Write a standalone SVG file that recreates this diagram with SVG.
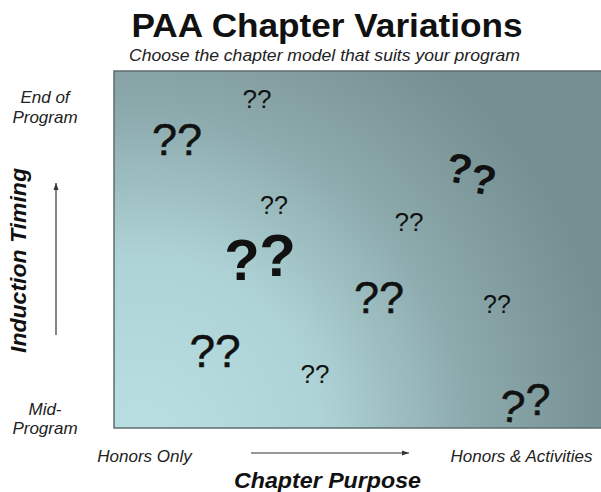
<svg xmlns="http://www.w3.org/2000/svg" width="601" height="492" viewBox="0 0 601 492">
<style>
.t{font-family:"Liberation Sans",Arial,sans-serif;fill:#111}
.it{font-family:"Liberation Sans",Arial,sans-serif;font-style:italic;fill:#222;font-size:17px;text-anchor:middle}
.bi{font-family:"Liberation Sans",Arial,sans-serif;font-style:italic;font-weight:bold;fill:#111}
.q{font-family:"Liberation Sans",Arial,sans-serif;fill:#111;text-anchor:middle}
.qm{font-family:"Liberation Sans",Arial,sans-serif;fill:#111;stroke:#111;stroke-width:0.5;text-anchor:middle}
.qb{font-family:"Liberation Sans",Arial,sans-serif;fill:#111;text-anchor:middle;font-weight:bold}
.ax{stroke:#333;stroke-width:1.2;fill:none}
</style>
<defs>
<radialGradient id="bg" gradientUnits="userSpaceOnUse" cx="140" cy="440" r="480">
<stop offset="0" stop-color="#b8e0e3"/>
<stop offset="0.38" stop-color="#aed3d6"/>
<stop offset="0.7" stop-color="#8ba8ab"/>
<stop offset="1" stop-color="#758f92"/>
</radialGradient>
<marker id="ah" markerWidth="8" markerHeight="8" refX="7" refY="4" orient="auto" markerUnits="userSpaceOnUse">
<path d="M0,1.5 L7,4 L0,6.5 Z" fill="#333"/>
</marker>
</defs>
<rect width="601" height="492" fill="#fff"/>
<g id="title">
<text class="t" x="327" y="37" font-size="34" font-weight="bold" text-anchor="middle" textLength="391" lengthAdjust="spacingAndGlyphs">PAA Chapter Variations</text>
<text class="it" x="324.5" y="61" font-size="16" textLength="391" lengthAdjust="spacingAndGlyphs">Choose the chapter model that suits your program</text>
</g>
<g id="chart">
<rect x="114" y="71" width="490" height="357" fill="url(#bg)" stroke="#5f6c6e" stroke-width="1.5"/>
</g>
<g id="marks">
<text class="q" x="257" y="108" font-size="26">??</text>
<text class="qm" x="177" y="155" font-size="45">??</text>
<text class="qb" x="457" y="183" font-size="42" transform="rotate(10 457 183)">?</text>
<text class="qb" x="481" y="194" font-size="42" transform="rotate(10 481 194)">?</text>
<text class="q" x="274" y="214" font-size="25">??</text>
<text class="q" x="409" y="231" font-size="26">??</text>
<text class="qb" x="242" y="280" font-size="58">?</text>
<text class="qb" x="277.5" y="276" font-size="60">?</text>
<text class="qm" x="379" y="313" font-size="45">??</text>
<text class="q" x="497" y="313" font-size="25">??</text>
<text class="qm" x="215" y="367" font-size="46">??</text>
<text class="q" x="315" y="383" font-size="26">??</text>
<text class="qm" x="510" y="422" font-size="45" transform="rotate(8 510 422)">?</text>
<text class="qm" x="538" y="415" font-size="45">?</text>
</g>
<g id="y-axis">
<text class="it" x="45" y="103">End of</text>
<text class="it" x="45" y="123">Program</text>
<text class="it" x="45" y="415">Mid-</text>
<text class="it" x="45" y="434">Program</text>
<text class="bi" font-size="22" transform="translate(26,260.5) rotate(-90)" text-anchor="middle" textLength="185" lengthAdjust="spacingAndGlyphs">Induction Timing</text>
</g>
<g id="x-axis">
<text class="it" x="144.5" y="462">Honors Only</text>
<text class="it" x="521.5" y="462">Honors &amp; Activities</text>
<text class="bi" x="327.5" y="488" font-size="22" text-anchor="middle" textLength="187" lengthAdjust="spacingAndGlyphs">Chapter Purpose</text>
</g>
<g id="connectors">
<line class="ax" x1="56" y1="335" x2="56" y2="183" marker-end="url(#ah)"/>
<line class="ax" x1="251" y1="453" x2="409" y2="453" marker-end="url(#ah)"/>
</g>
</svg>
